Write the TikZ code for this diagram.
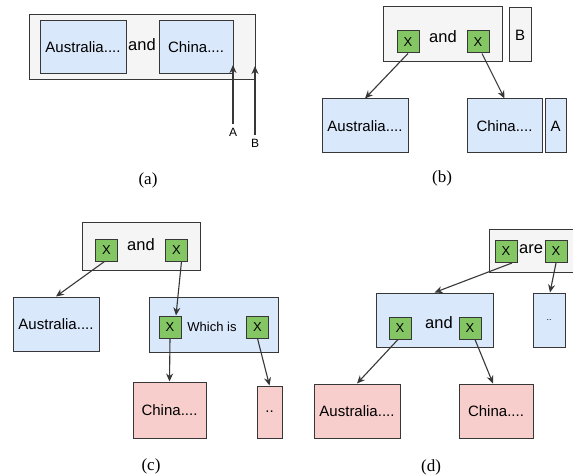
\documentclass[tikz,border=0pt]{standalone}
\usepackage{fontspec}
\setmainfont{Liberation Sans}
\newfontfamily\capfont{Liberation Serif}
\usetikzlibrary{arrows.meta}

\definecolor{boxGray}{RGB}{245,245,245}
\definecolor{boxBlue}{RGB}{218,232,252}
\definecolor{boxPink}{RGB}{248,206,204}
\definecolor{slotGreen}{RGB}{132,198,100}
\definecolor{lineGray}{RGB}{55,55,55}

\begin{document}
\begin{tikzpicture}[x=1pt, y=-1pt,
        frame/.style={rectangle, draw=lineGray, line width=1pt, fill=boxGray, inner sep=1pt},
        ent/.style={rectangle, draw=lineGray, line width=1pt, fill=boxBlue, inner sep=1pt, font=\fontsize{15}{17}\selectfont},
        leaf/.style={rectangle, draw=lineGray, line width=1pt, fill=boxPink, inner sep=1pt, font=\fontsize{15}{17}\selectfont},
        slot/.style={rectangle, draw=lineGray, line width=1pt, fill=slotGreen, inner sep=0pt, minimum width=22pt, minimum height=22pt, font=\fontsize{13}{15}\selectfont},
        word/.style={font=\fontsize{16.5}{18}\selectfont, inner sep=0pt},
        tag/.style={font=\fontsize{12}{14}\selectfont, inner sep=3.5pt},
        caption/.style={font=\capfont\fontsize{17}{19}\selectfont},
        arr/.style={-{Stealth[length=8pt,width=7pt]}, lineGray, line width=1.1pt}
    ]
        \useasboundingbox[fill=white] (0,0) rectangle (573,476);

        % (a)
        \node[frame, minimum width=226pt, minimum height=65pt] (aframe) at (142,47.5) {};
        \node[ent, minimum width=86pt, minimum height=53pt] (aaus) at (83,47.5) {Australia....};
        \node[word] (aand) at (142,45) {and};
        \node[ent, minimum width=74pt, minimum height=53pt] (achina) at (196,47.5) {China....};
        \coordinate (tipA) at (233,65);
        \coordinate (tipB) at (255,66);
        \node[tag] (labA) at (233,132) {A};
        \node[tag] (labB) at (255,143) {B};
        \draw[arr] (labA.north) -- (tipA);
        \draw[arr] (labB.north) -- (tipB);
        \node[caption] (capa) at (148,180) {(a)};

        % (b)
        \node[frame, minimum width=119pt, minimum height=55pt] (bframe) at (442.5,34.5) {};
        \node[slot] (bxl) at (408,42) {X};
        \node[word] (band) at (443,37) {and};
        \node[slot] (bxr) at (478,42) {X};
        \node[frame, minimum width=22pt, minimum height=54pt, font=\fontsize{15}{17}\selectfont] (bB) at (520,35) {B};
        \node[ent, minimum width=86pt, minimum height=54pt] (baus) at (365,126) {Australia....};
        \node[ent, minimum width=75pt, minimum height=54pt] (bchina) at (504.5,126) {China....};
        \node[ent, minimum width=21pt, minimum height=54pt] (bA) at (555.5,126) {A};
        \draw[arr] (bxl.south) -- (baus.north);
        \draw[arr] ([xshift=4pt]bxr.south) -- (bchina.north);
        \node[caption] (capb) at (442,178) {(b)};

        % (c)
        \node[frame, minimum width=118pt, minimum height=48pt] (cframe) at (141,246) {};
        \node[slot] (cxl) at (106.5,250) {X};
        \node[word] (cand) at (141,245) {and};
        \node[slot] (cxr) at (176.5,250) {X};
        \node[ent, minimum width=86pt, minimum height=54pt] (caus) at (56,324) {Australia....};
        \node[ent, minimum width=129pt, minimum height=55pt] (cwhich) at (213.5,324.5) {};
        \node[slot] (cwl) at (170,327) {X};
        \node[font=\fontsize{13}{15}\selectfont, inner sep=0pt] (cis) at (212,327) {Which is};
        \node[slot] (cwr) at (257.5,327) {X};
        \node[leaf, minimum width=73pt, minimum height=56pt] (cchina) at (169.5,410) {China....};
        \node[leaf, minimum width=25pt, minimum height=52pt] (cdots) at (269.5,412) {..};
        \draw[arr] ([xshift=-2pt]cxl.south) -- (caus.north);
        \draw[arr] ([xshift=5pt]cxr.south) -- ([xshift=6pt]cwl.north);
        \draw[arr] (cwl.south) -- (cchina.north);
        \draw[arr] (cwr.south) -- (cdots.north);
        \node[caption] (capc) at (151,466) {(c)};

        % (d)
        \node[frame, minimum width=90pt, minimum height=43pt] (dframe) at (534,250.5) {};
        \node[slot] (dxl) at (506,251.5) {X};
        \node[word] (dare) at (531,249) {are};
        \node[slot] (dxr) at (556,251.5) {X};
        \node[ent, minimum width=117pt, minimum height=54pt] (dand) at (434.5,320) {};
        \node[slot] (dal) at (400,328) {X};
        \node[word] (dword) at (439,323) {and};
        \node[slot] (dar) at (470,328) {X};
        \node[ent, minimum width=32pt, minimum height=54pt, font=\fontsize{9}{11}\selectfont] (ddots) at (549,320) {..};
        \node[leaf, minimum width=86pt, minimum height=54pt] (daus) at (357,411) {Australia....};
        \node[leaf, minimum width=74pt, minimum height=54pt] (dchina) at (496,411) {China....};
        \draw[arr] ([xshift=6pt]dxl.south) -- (dand.north);
        \draw[arr] (dxr.south) -- ([xshift=1pt]ddots.north);
        \draw[arr] ([xshift=-2pt]dal.south) -- (daus.north);
        \draw[arr] ([xshift=5pt]dar.south) -- ([xshift=-3pt]dchina.north);
        \node[caption] (capd) at (431,467) {(d)};
\end{tikzpicture}
\end{document}
